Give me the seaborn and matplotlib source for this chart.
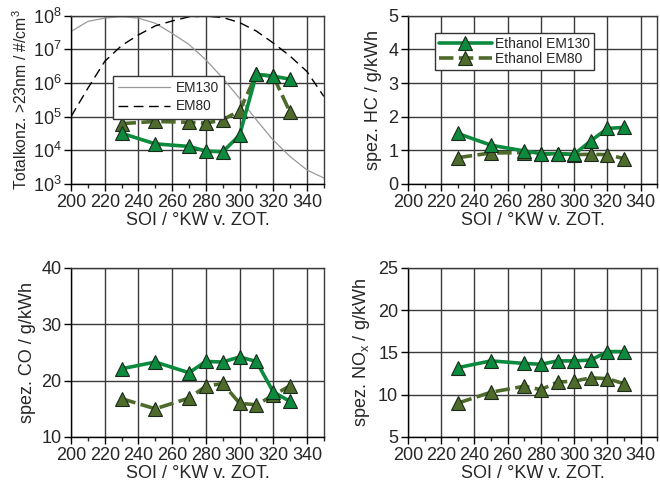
import matplotlib
matplotlib.use("Agg")
import matplotlib.pyplot as plt
from matplotlib.ticker import MultipleLocator, LogLocator, NullLocator
import seaborn as sns
import pandas as pd

sns.set_style("white")
plt.rcParams['font.family'] = ['Liberation Sans', 'DejaVu Sans']
plt.rcParams['mathtext.fontset'] = 'custom'
plt.rcParams['mathtext.rm'] = 'Liberation Sans'
plt.rcParams['mathtext.it'] = 'Liberation Sans'

# SOI points of the measurements
soi = [230, 250, 270, 280, 290, 300, 310, 320, 330]

# particle concentration (#/cm3)
pn_em130 = [3.2e4, 1.55e4, 1.3e4, 9.5e3, 9.0e3, 2.8e4, 1.8e6, 1.6e6, 1.3e6]
pn_em80 = [6.2e4, 7.2e4, 6.8e4, 6.4e4, 8.0e4, 1.5e5, 1.8e6, 1.6e6, 1.35e5]

# specific emissions g/kWh
hc_em130 = [1.5, 1.15, 0.98, 0.9, 0.9, 0.88, 1.28, 1.65, 1.68]
hc_em80 = [0.78, 0.92, 0.93, 0.88, 0.9, 0.87, 0.88, 0.87, 0.75]
co_em130 = [22.1, 23.3, 21.4, 23.4, 23.3, 24.2, 23.4, 18.0, 16.3]
co_em80 = [16.8, 15.0, 16.9, 19.0, 19.5, 16.0, 15.7, 17.4, 19.1]
nox_em130 = [13.2, 14.0, 13.7, 13.6, 14.0, 14.0, 14.1, 15.1, 15.1]
nox_em80 = [9.0, 10.3, 11.0, 10.6, 11.5, 11.6, 12.0, 11.9, 11.3]

# background curves
curve_soi = [200, 210, 220, 230, 240, 250, 260, 270, 280, 290, 300, 310, 320, 330, 340, 350]
curve_em130 = [3.4e7, 6.8e7, 8.5e7, 9.5e7, 8.5e7, 6.0e7, 3.0e7, 1.4e7, 4.9e6, 1.4e6,
               3.5e5, 8.0e4, 2.0e4, 6.5e3, 2.6e3, 1.5e3]
curve_em80 = [1.0e5, 7.0e5, 4.4e6, 1.3e7, 2.7e7, 5.0e7, 7.0e7, 9.3e7, 9.8e7, 8.9e7,
              6.3e7, 3.5e7, 1.55e7, 6.3e6, 2.2e6, 4.0e5]

green = "#0c8a3e"
olive = "#4e6b2c"
xlabel = "SOI / °KW v. ZOT."

fig = plt.figure(figsize=(6.6, 4.93), dpi=100)
ax_pn = fig.add_axes([0.1076, 0.627, 0.383, 0.341])
ax_hc = fig.add_axes([0.618, 0.627, 0.378, 0.341])
ax_co = fig.add_axes([0.1076, 0.1136, 0.383, 0.343])
ax_nox = fig.add_axes([0.618, 0.1136, 0.378, 0.343])


def draw(ax, y130, y80):
    sns.lineplot(x=soi, y=y130, ax=ax, color=green, lw=2.6, marker="^", ms=10.5,
                 mfc=green, mec="#1a2a1a", mew=0.8, label="Ethanol EM130", zorder=4)
    sns.lineplot(x=soi, y=y80, ax=ax, color=olive, lw=2.6, marker="^", ms=10.5,
                 mfc=olive, mec="#1a2a1a", mew=0.8, label="Ethanol EM80", zorder=3,
                 dashes=False, linestyle=(0, (4, 1.5)))


def style(ax):
    ax.set_xlim(200, 350)
    ax.xaxis.set_major_locator(MultipleLocator(20))
    ax.xaxis.set_minor_locator(MultipleLocator(10))
    ax.grid(True, which="major", color="#3a3a3a", lw=1.0)
    ax.tick_params(which="major", direction="out", length=5, width=1, labelsize=13,
                   color="black", pad=2, bottom=True, left=True)
    ax.tick_params(which="minor", axis="x", direction="out", length=3, width=1, bottom=True)
    for s in ax.spines.values():
        s.set_color("#3a3a3a")
        s.set_linewidth(1.0)
    ax.spines["bottom"].set_color("black")
    ax.spines["left"].set_color("black")
    ax.set_xlabel(xlabel, fontsize=13, labelpad=1)


# particle number panel
sns.lineplot(x=curve_soi, y=curve_em130, ax=ax_pn, color="#9a9a9a", lw=0.9, label="EM130")
sns.lineplot(x=curve_soi, y=curve_em80, ax=ax_pn, color="black", lw=1.0, label="EM80",
             dashes=False, linestyle=(0, (7, 4)))
draw(ax_pn, pn_em130, pn_em80)
ax_pn.set_yscale("log")
ax_pn.set_ylim(1e3, 1e8)
ax_pn.yaxis.set_major_locator(LogLocator(base=10, numticks=10))
ax_pn.yaxis.set_minor_locator(NullLocator())
style(ax_pn)
ax_pn.set_ylabel("Totalkonz. >23nm / #/cm$^3$", fontsize=11.3, labelpad=2)
h, l = ax_pn.get_legend_handles_labels()
ax_pn.legend(h[:2], l[:2], loc="upper left", bbox_to_anchor=(0.166, 0.643), fontsize=9.8,
             frameon=True, fancybox=False, edgecolor="#333333", framealpha=1,
             handlelength=3.8, borderpad=0.4, labelspacing=0.3, handletextpad=0.4,
             borderaxespad=0)

# HC panel
draw(ax_hc, hc_em130, hc_em80)
ax_hc.set_ylim(0, 5)
ax_hc.yaxis.set_major_locator(MultipleLocator(1))
style(ax_hc)
ax_hc.set_ylabel("spez. HC / g/kWh", fontsize=13, labelpad=4)
ax_hc.legend(loc="upper left", bbox_to_anchor=(0.108, 0.899), fontsize=10,
             frameon=True, fancybox=False, edgecolor="#333333", framealpha=1,
             handlelength=3.8, borderpad=0.3, labelspacing=0.1, handletextpad=0.2,
             borderaxespad=0)

# CO panel
draw(ax_co, co_em130, co_em80)
ax_co.set_ylim(10, 40)
ax_co.yaxis.set_major_locator(MultipleLocator(10))
style(ax_co)
ax_co.set_ylabel("spez. CO / g/kWh", fontsize=13, labelpad=4)
ax_co.get_legend().remove()

# NOx panel
draw(ax_nox, nox_em130, nox_em80)
ax_nox.set_ylim(5, 25)
ax_nox.yaxis.set_major_locator(MultipleLocator(5))
style(ax_nox)
ax_nox.set_ylabel("spez. NO$_\\mathrm{x}$ / g/kWh", fontsize=13, labelpad=4)
ax_nox.get_legend().remove()

fig.savefig("out.png", dpi=100)
